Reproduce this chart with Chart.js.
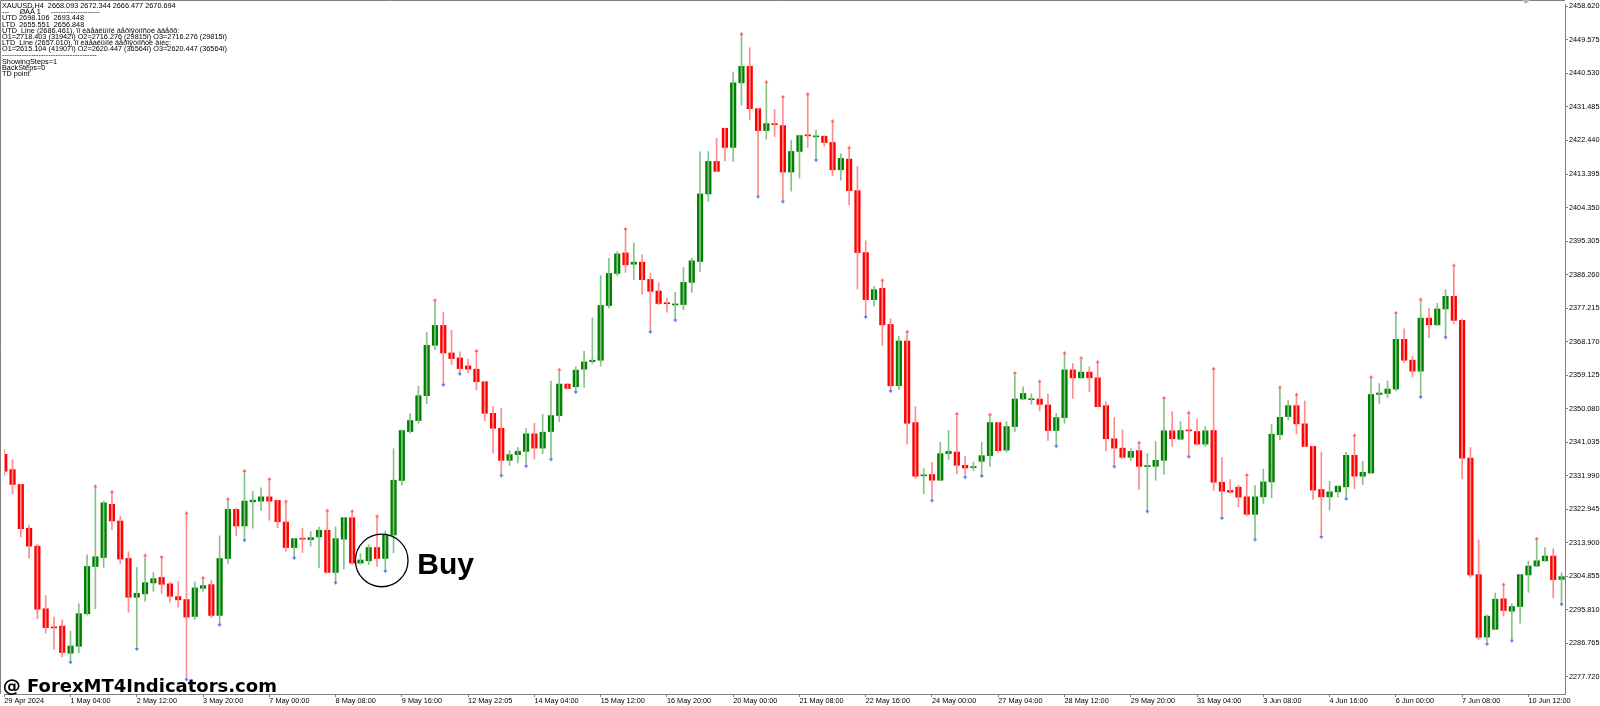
<!DOCTYPE html>
<html><head><meta charset="utf-8">
<script src="https://cdn.jsdelivr.net/npm/chart.js@4/dist/chart.umd.min.js"></script>
<style>html,body{margin:0;padding:0;background:#fff;overflow:hidden}</style>
</head><body>
<canvas id="c" width="1600" height="706"></canvas>
<script>
const xLabels = ["29 Apr 2024","1 May 04:00","2 May 12:00","3 May 20:00","7 May 00:00","8 May 08:00","9 May 16:00","12 May 22:05","14 May 04:00","15 May 12:00","16 May 20:00","20 May 00:00","21 May 08:00","22 May 16:00","24 May 00:00","27 May 04:00","28 May 12:00","29 May 20:00","31 May 04:00","3 Jun 08:00","4 Jun 16:00","6 Jun 00:00","7 Jun 08:00","10 Jun 12:00"];
const xLabelBars = [0,8,16,24,32,40,48,56,64,72,80,88,96,104,112,120,128,136,144,152,160,168,176,184];
const yTicks = [2458.620,2449.575,2440.530,2431.485,2422.440,2413.395,2404.350,2395.305,2386.260,2377.215,2368.170,2359.125,2350.080,2341.035,2331.990,2322.945,2313.900,2304.855,2295.810,2286.765,2277.720];

const opens = [2337.75,2333.63,2329.62,2317.80,2312.98,2296.07,2291.05,2291.40,2284.09,2285.96,
2294.74,2307.50,2309.92,2324.25,2319.76,2309.65,2299.18,2300.10,2303.05,2304.55,
2302.79,2299.37,2298.57,2294.01,2301.60,2302.60,2294.28,2309.65,2322.90,2318.42,
2324.94,2325.13,2326.28,2325.32,2319.49,2312.60,2315.01,2314.74,2315.47,2317.27,
2305.89,2314.85,2320.65,2308.41,2309.03,2312.60,2309.65,2316.01,2330.69,2343.91,
2346.87,2353.57,2367.18,2372.54,2365.11,2363.77,2361.62,2360.73,2357.33,2348.82,
2344.79,2336.14,2337.67,2338.55,2343.29,2339.43,2343.91,2348.21,2356.71,2355.99,
2360.73,2362.78,2363.15,2377.91,2386.56,2392.12,2389.05,2389.60,2384.95,2381.81,
2378.52,2378.07,2378.17,2384.15,2389.79,2408.02,2416.80,2425.73,2420.56,2438.00,
2442.44,2431.02,2425.11,2426.88,2426.45,2413.93,2419.48,2423.85,2423.42,2423.58,
2421.90,2414.54,2417.42,2408.91,2392.20,2379.50,2382.54,2372.80,2356.26,2368.33,
2346.32,2331.95,2332.30,2330.77,2337.93,2338.36,2334.79,2334.17,2335.86,2337.40,
2346.32,2338.89,2345.25,2352.68,2352.49,2352.68,2351.08,2344.18,2347.67,2360.54,
2358.40,2359.93,2358.40,2350.89,2341.95,2339.43,2336.94,2338.74,2334.44,2334.52,
2336.14,2344.10,2341.84,2344.23,2343.91,2340.50,2344.18,2330.23,2328.01,2328.89,
2326.28,2321.57,2326.28,2330.31,2343.03,2347.94,2350.89,2345.97,2339.89,2328.27,
2326.28,2327.62,2328.97,2337.48,2331.84,2332.72,2353.91,2354.18,2355.37,2368.78,
2363.15,2360.20,2374.50,2372.69,2376.99,2380.39,2373.88,2336.75,2305.28,2288.45,
2290.52,2298.76,2295.43,2296.69,2305.20,2307.61,2309.03,2310.30,2304.01];

const highs = [2339.08,2336.32,2329.70,2318.69,2313.52,2299.64,2293.82,2293.13,2290.06,2297.42,
2310.65,2328.54,2325.13,2327.08,2321.11,2311.45,2307.23,2309.92,2305.89,2309.49,
2303.21,2303.40,2321.30,2303.32,2303.86,2303.67,2315.74,2325.13,2323.17,2332.72,
2327.81,2328.70,2330.50,2325.40,2324.51,2315.06,2317.80,2316.89,2318.15,2321.99,
2318.15,2320.70,2321.83,2310.99,2313.33,2320.49,2317.08,2339.27,2344.30,2348.74,
2356.18,2370.74,2378.79,2376.11,2371.19,2365.38,2363.42,2365.11,2357.40,2350.62,
2350.16,2338.74,2339.62,2344.79,2346.13,2348.55,2357.52,2360.01,2356.79,2361.35,
2365.57,2374.58,2385.95,2390.67,2392.47,2398.01,2394.80,2391.58,2386.64,2384.07,
2379.93,2381.46,2388.17,2390.67,2419.40,2419.48,2423.05,2425.80,2440.94,2450.60,
2447.47,2431.10,2437.62,2430.83,2433.65,2422.43,2423.93,2434.39,2425.27,2423.70,
2427.07,2418.84,2419.91,2415.46,2395.33,2383.08,2384.15,2374.31,2369.67,2370.28,
2350.62,2333.90,2335.59,2340.96,2344.18,2348.13,2337.21,2335.67,2341.04,2347.94,
2346.40,2346.59,2359.13,2355.99,2354.10,2356.87,2354.02,2348.82,2364.50,2362.23,
2363.15,2361.35,2362.07,2351.96,2347.67,2344.36,2339.27,2340.35,2337.93,2341.23,
2352.41,2349.28,2346.59,2348.40,2347.32,2345.25,2360.28,2336.94,2330.95,2329.43,
2331.65,2329.35,2333.79,2345.86,2355.26,2352.23,2353.30,2352.15,2339.90,2338.36,
2330.50,2329.20,2338.28,2342.30,2335.86,2358.05,2356.87,2357.52,2375.38,2371.62,
2364.23,2378.97,2377.18,2378.52,2382.19,2388.17,2374.31,2339.62,2314.67,2294.47,
2300.36,2302.06,2297.42,2305.41,2308.95,2314.40,2312.60,2312.25,2305.81];

const lows = [2332.11,2327.08,2315.47,2309.76,2293.39,2289.52,2285.08,2283.09,2282.20,2284.16,
2294.36,2296.07,2307.23,2317.42,2308.30,2295.16,2285.77,2298.11,2300.79,2300.25,
2297.84,2296.50,2277.56,2293.13,2300.79,2293.66,2292.31,2308.30,2315.74,2315.12,
2317.80,2322.64,2319.96,2317.96,2311.53,2310.38,2311.26,2312.98,2307.07,2305.62,
2303.67,2306.80,2308.14,2308.09,2307.96,2307.50,2306.80,2311.18,2329.43,2343.45,
2346.13,2351.42,2365.99,2357.06,2361.96,2360.01,2359.82,2355.10,2346.79,2338.09,
2332.56,2334.79,2335.40,2335.13,2336.48,2337.93,2336.94,2346.59,2355.37,2355.10,
2355.80,2362.23,2361.54,2377.26,2385.95,2386.83,2384.87,2381.00,2371.35,2378.17,
2376.11,2374.50,2376.72,2381.46,2387.02,2406.06,2414.06,2416.96,2416.80,2431.98,
2427.96,2407.83,2422.78,2423.51,2406.49,2408.75,2412.32,2420.56,2417.69,2420.83,
2412.93,2411.70,2405.07,2382.35,2375.38,2377.72,2367.18,2355.37,2355.26,2340.50,
2331.22,2327.08,2325.85,2330.69,2336.32,2332.56,2332.11,2333.37,2332.45,2334.52,
2338.36,2338.36,2343.91,2352.41,2351.23,2349.47,2341.50,2340.50,2346.13,2352.84,
2358.21,2354.64,2350.54,2338.74,2334.98,2336.59,2336.14,2328.27,2322.90,2330.77,
2332.30,2339.89,2341.76,2337.67,2340.16,2339.89,2328.01,2321.11,2327.19,2323.60,
2321.11,2315.28,2324.51,2326.01,2341.68,2347.05,2343.29,2339.81,2325.58,2316.01,
2322.72,2326.28,2326.28,2328.43,2329.62,2332.56,2351.50,2353.03,2354.84,2362.50,
2358.67,2353.76,2369.21,2372.61,2369.86,2372.96,2331.11,2304.55,2287.76,2287.11,
2290.39,2294.09,2288.02,2292.20,2300.52,2307.42,2308.84,2299.02,2297.84];

const closes = [2333.18,2329.62,2317.69,2312.98,2295.96,2290.97,2290.92,2284.27,2286.04,2294.74,
2307.50,2310.11,2324.67,2319.76,2309.49,2299.18,2300.25,2303.13,2304.20,2302.68,
2299.45,2298.49,2293.82,2301.71,2302.33,2294.28,2309.65,2322.90,2318.42,2325.13,
2325.40,2326.28,2325.13,2319.57,2312.60,2315.01,2314.85,2315.28,2317.27,2305.89,
2315.01,2320.65,2308.41,2309.23,2312.60,2309.65,2316.01,2330.77,2344.18,2346.87,
2353.57,2367.18,2372.54,2365.11,2363.58,2360.89,2360.73,2357.33,2348.82,2344.79,
2336.14,2337.67,2338.55,2343.29,2339.43,2343.72,2348.21,2356.71,2355.53,2360.46,
2362.69,2363.15,2377.91,2386.56,2391.85,2388.89,2389.60,2384.87,2381.74,2378.44,
2378.39,2378.25,2384.15,2389.97,2408.02,2416.80,2414.11,2420.56,2438.00,2442.44,
2431.02,2425.11,2426.99,2426.72,2413.93,2419.48,2423.77,2423.69,2423.58,2421.90,
2414.54,2417.61,2408.91,2392.20,2379.50,2382.19,2372.69,2356.26,2368.33,2346.13,
2331.84,2332.11,2330.77,2337.93,2338.55,2334.79,2334.06,2334.31,2337.40,2346.32,
2338.74,2345.25,2352.68,2354.18,2352.63,2351.23,2344.18,2347.67,2360.54,2358.40,
2359.93,2358.40,2350.62,2341.95,2339.43,2336.94,2338.55,2334.52,2334.57,2336.14,
2344.10,2341.95,2344.18,2344.07,2340.50,2344.10,2330.23,2327.81,2327.54,2326.20,
2321.57,2326.28,2330.31,2343.18,2347.75,2350.89,2345.97,2339.89,2328.09,2326.28,
2327.62,2329.16,2337.48,2331.84,2332.91,2353.91,2354.29,2355.37,2368.78,2363.15,
2360.20,2374.50,2372.69,2376.99,2380.39,2373.88,2336.75,2305.20,2288.37,2294.09,
2298.65,2295.62,2296.69,2305.28,2307.61,2309.03,2310.30,2303.94,2304.74];

const upArrowIdx = [11,13,17,19,22,24,27,29,32,34,39,42,45,52,57,67,75,89,92,94,97,100,102,106,109,115,119,122,125,128,130,132,137,140,143,146,150,154,156,163,165,168,171,175,181,185];
const downArrowIdx = [8,16,22,26,29,35,40,46,53,55,60,63,66,69,78,81,91,94,98,104,107,112,116,118,127,134,138,143,147,151,159,162,171,174,179,182,188];

const infoLines = [
  "XAUUSD,H4  2668.093 2672.344 2666.477 2670.694",
  "---     \u00D8\u00C0\u00C0 1     --------------------",
  "UTD 2698.106  2693.448",
  "LTD  2655.551  2656.848",
  "UTD_Line (2686.461), \u00EF\u00EE \u00E8\u00E4\u00E5\u00E0\u00EB\u00FC\u00ED\u00EE\u00E9 \u00E2\u00E5\u00F0\u00EE\u00FF\u00F2\u00ED\u00EE\u00F1\u00F2\u00E8 \u00E2\u00E2\u00E5\u00F0\u00F5:",
  "O1=2718.403 (31942\u00EF) O2=2716.276 (29815\u00EF) O3=2716.276 (29815\u00EF)",
  "LTD_Line (2657.010), \u00EF\u00EE \u00E8\u00E4\u00E5\u00E0\u00EB\u00FC\u00ED\u00EE\u00E9 \u00E2\u00E5\u00F0\u00EE\u00FF\u00F2\u00ED\u00EE\u00F1\u00F2\u00E8 \u00E2\u00ED\u00E8\u00E7:",
  "O1=2615.104 (41907\u00EF) O2=2620.447 (36564\u00EF) O3=2620.447 (36564\u00EF)",
  "---------------------------------------",
  "ShowingSteps=1",
  "BackSteps=0",
  "TD point"
];
const buyLabel = "Buy";
const watermark = "@ ForexMT4Indicators.com";
const buyAnchor = { bar: 45.57, price: 2309.12 };

// ---- styling ----
const BULL = '#008000', BEAR = '#ff0000';
const BULL_WICK = '#86c386', BEAR_WICK = '#ff8c8c';
const FONT = '"Liberation Sans", Arial, sans-serif';

const isBull = opens.map((o, i) => closes[i] >= o);
const wickData = opens.map((o, i) => ({ x: i, y: [lows[i], highs[i]] }));
const bodyData = opens.map((o, i) => ({ x: i, y: [o, closes[i]] }));
const upData = upArrowIdx.map(i => ({ x: i, y: highs[i] }));
const dnData = downArrowIdx.map(i => ({ x: i, y: lows[i] }));

function arrowImg(up, color) {
  const c = document.createElement('canvas');
  c.width = 5; c.height = 10;
  const g = c.getContext('2d');
  g.fillStyle = color; g.strokeStyle = color; g.lineWidth = 1;
  g.beginPath();
  if (up) {
    g.moveTo(2.5, 1); g.lineTo(0.5, 3.8); g.lineTo(4.5, 3.8); g.closePath(); g.fill();
    g.fillRect(2, 3.5, 1, 1.5);
  } else {
    g.moveTo(2.5, 9); g.lineTo(0.5, 6.2); g.lineTo(4.5, 6.2); g.closePath(); g.fill();
    g.fillRect(2, 5, 1, 1.5);
  }
  return c;
}
const upImg = arrowImg(true, '#ff4646');
const dnImg = arrowImg(false, '#3c5aff');

const overlay = {
  id: 'overlay',
  afterDraw(chart) {
    const ctx = chart.ctx, xs = chart.scales.x, ys = chart.scales.y, ca = chart.chartArea;
    ctx.save();
    // frame (left/top)
    ctx.strokeStyle = '#808080'; ctx.lineWidth = 1;
    ctx.beginPath();
    ctx.moveTo(0.5, ca.bottom); ctx.lineTo(0.5, 0.5); ctx.lineTo(ca.right, 0.5);
    ctx.stroke();
    // chart shift marker
    ctx.fillStyle = '#b4b4b4';
    ctx.beginPath(); ctx.moveTo(1522, 0); ctx.lineTo(1530, 0); ctx.lineTo(1526, 4); ctx.closePath(); ctx.fill();
    // info text
    ctx.fillStyle = '#000';
    ctx.font = '7.3px ' + FONT;
    ctx.textAlign = 'left'; ctx.textBaseline = 'middle';
    infoLines.forEach((t, k) => ctx.fillText(t, 2, 6 + k * 6.18));
    // buy circle + label
    const cx = xs.getPixelForValue(buyAnchor.bar), cy = ys.getPixelForValue(buyAnchor.price);
    ctx.beginPath(); ctx.arc(cx, cy, 26.3, 0, Math.PI * 2);
    ctx.strokeStyle = '#000'; ctx.lineWidth = 1.3; ctx.stroke();
    ctx.textBaseline = 'alphabetic';
    ctx.font = 'bold 30px ' + FONT;
    ctx.fillText(buyLabel, cx + 35.6, cy + 13.3);
    // watermark
    ctx.font = 'bold 18px "DejaVu Sans", sans-serif';
    ctx.fillText(watermark, 2.7, 691.7);
    ctx.restore();
  }
};

new Chart(document.getElementById('c'), {
  type: 'bar',
  data: {
    datasets: [
      { type: 'bar', data: wickData, grouped: false, barThickness: 1, minBarLength: 1,
        backgroundColor: isBull.map(b => b ? BULL_WICK : BEAR_WICK), borderWidth: 0 },
      { type: 'bar', data: bodyData, grouped: false, barThickness: 5.5, minBarLength: 1,
        backgroundColor: isBull.map(b => b ? BULL : BEAR), borderWidth: 0 },
      { type: 'scatter', data: upData, pointStyle: upImg, radius: 3, hoverRadius: 3 },
      { type: 'scatter', data: dnData, pointStyle: dnImg, radius: 3, hoverRadius: 3 }
    ]
  },
  options: {
    responsive: false, animation: false, devicePixelRatio: 1,
    layout: { padding: 0 },
    plugins: { legend: { display: false }, tooltip: { enabled: false } },
    scales: {
      x: {
        type: 'linear', min: -0.031, max: 188.42, offset: false,
        grid: { drawOnChartArea: false, drawTicks: true, tickLength: 3, color: '#808080', offset: false },
        border: { display: true, color: '#808080', width: 1 },
        ticks: { autoSkip: false, maxRotation: 0, minRotation: 0, align: 'start', padding: 0,
          color: '#000', font: { family: FONT, size: 7.3 },
          callback: (v, i) => xLabels[i] ?? '' },
        afterBuildTicks: s => { s.ticks = xLabelBars.map(b => ({ value: b })); },
        afterFit: s => { s.height = 12; s.paddingLeft = 0; s.paddingRight = 0; }
      },
      y: {
        type: 'linear', position: 'right', min: 2273.08, max: 2459.27,
        grid: { drawOnChartArea: false, drawTicks: true, tickLength: 3, color: '#808080' },
        border: { display: true, color: '#808080', width: 1 },
        ticks: { autoSkip: false, padding: 1, color: '#000', font: { family: FONT, size: 7.3 },
          callback: v => Number(v).toFixed(3) },
        afterBuildTicks: s => { s.ticks = yTicks.map(v => ({ value: v })); },
        afterFit: s => { s.width = 35; s.paddingTop = 0; s.paddingBottom = 0; }
      }
    }
  },
  plugins: [overlay]
});
</script>
</body></html>
